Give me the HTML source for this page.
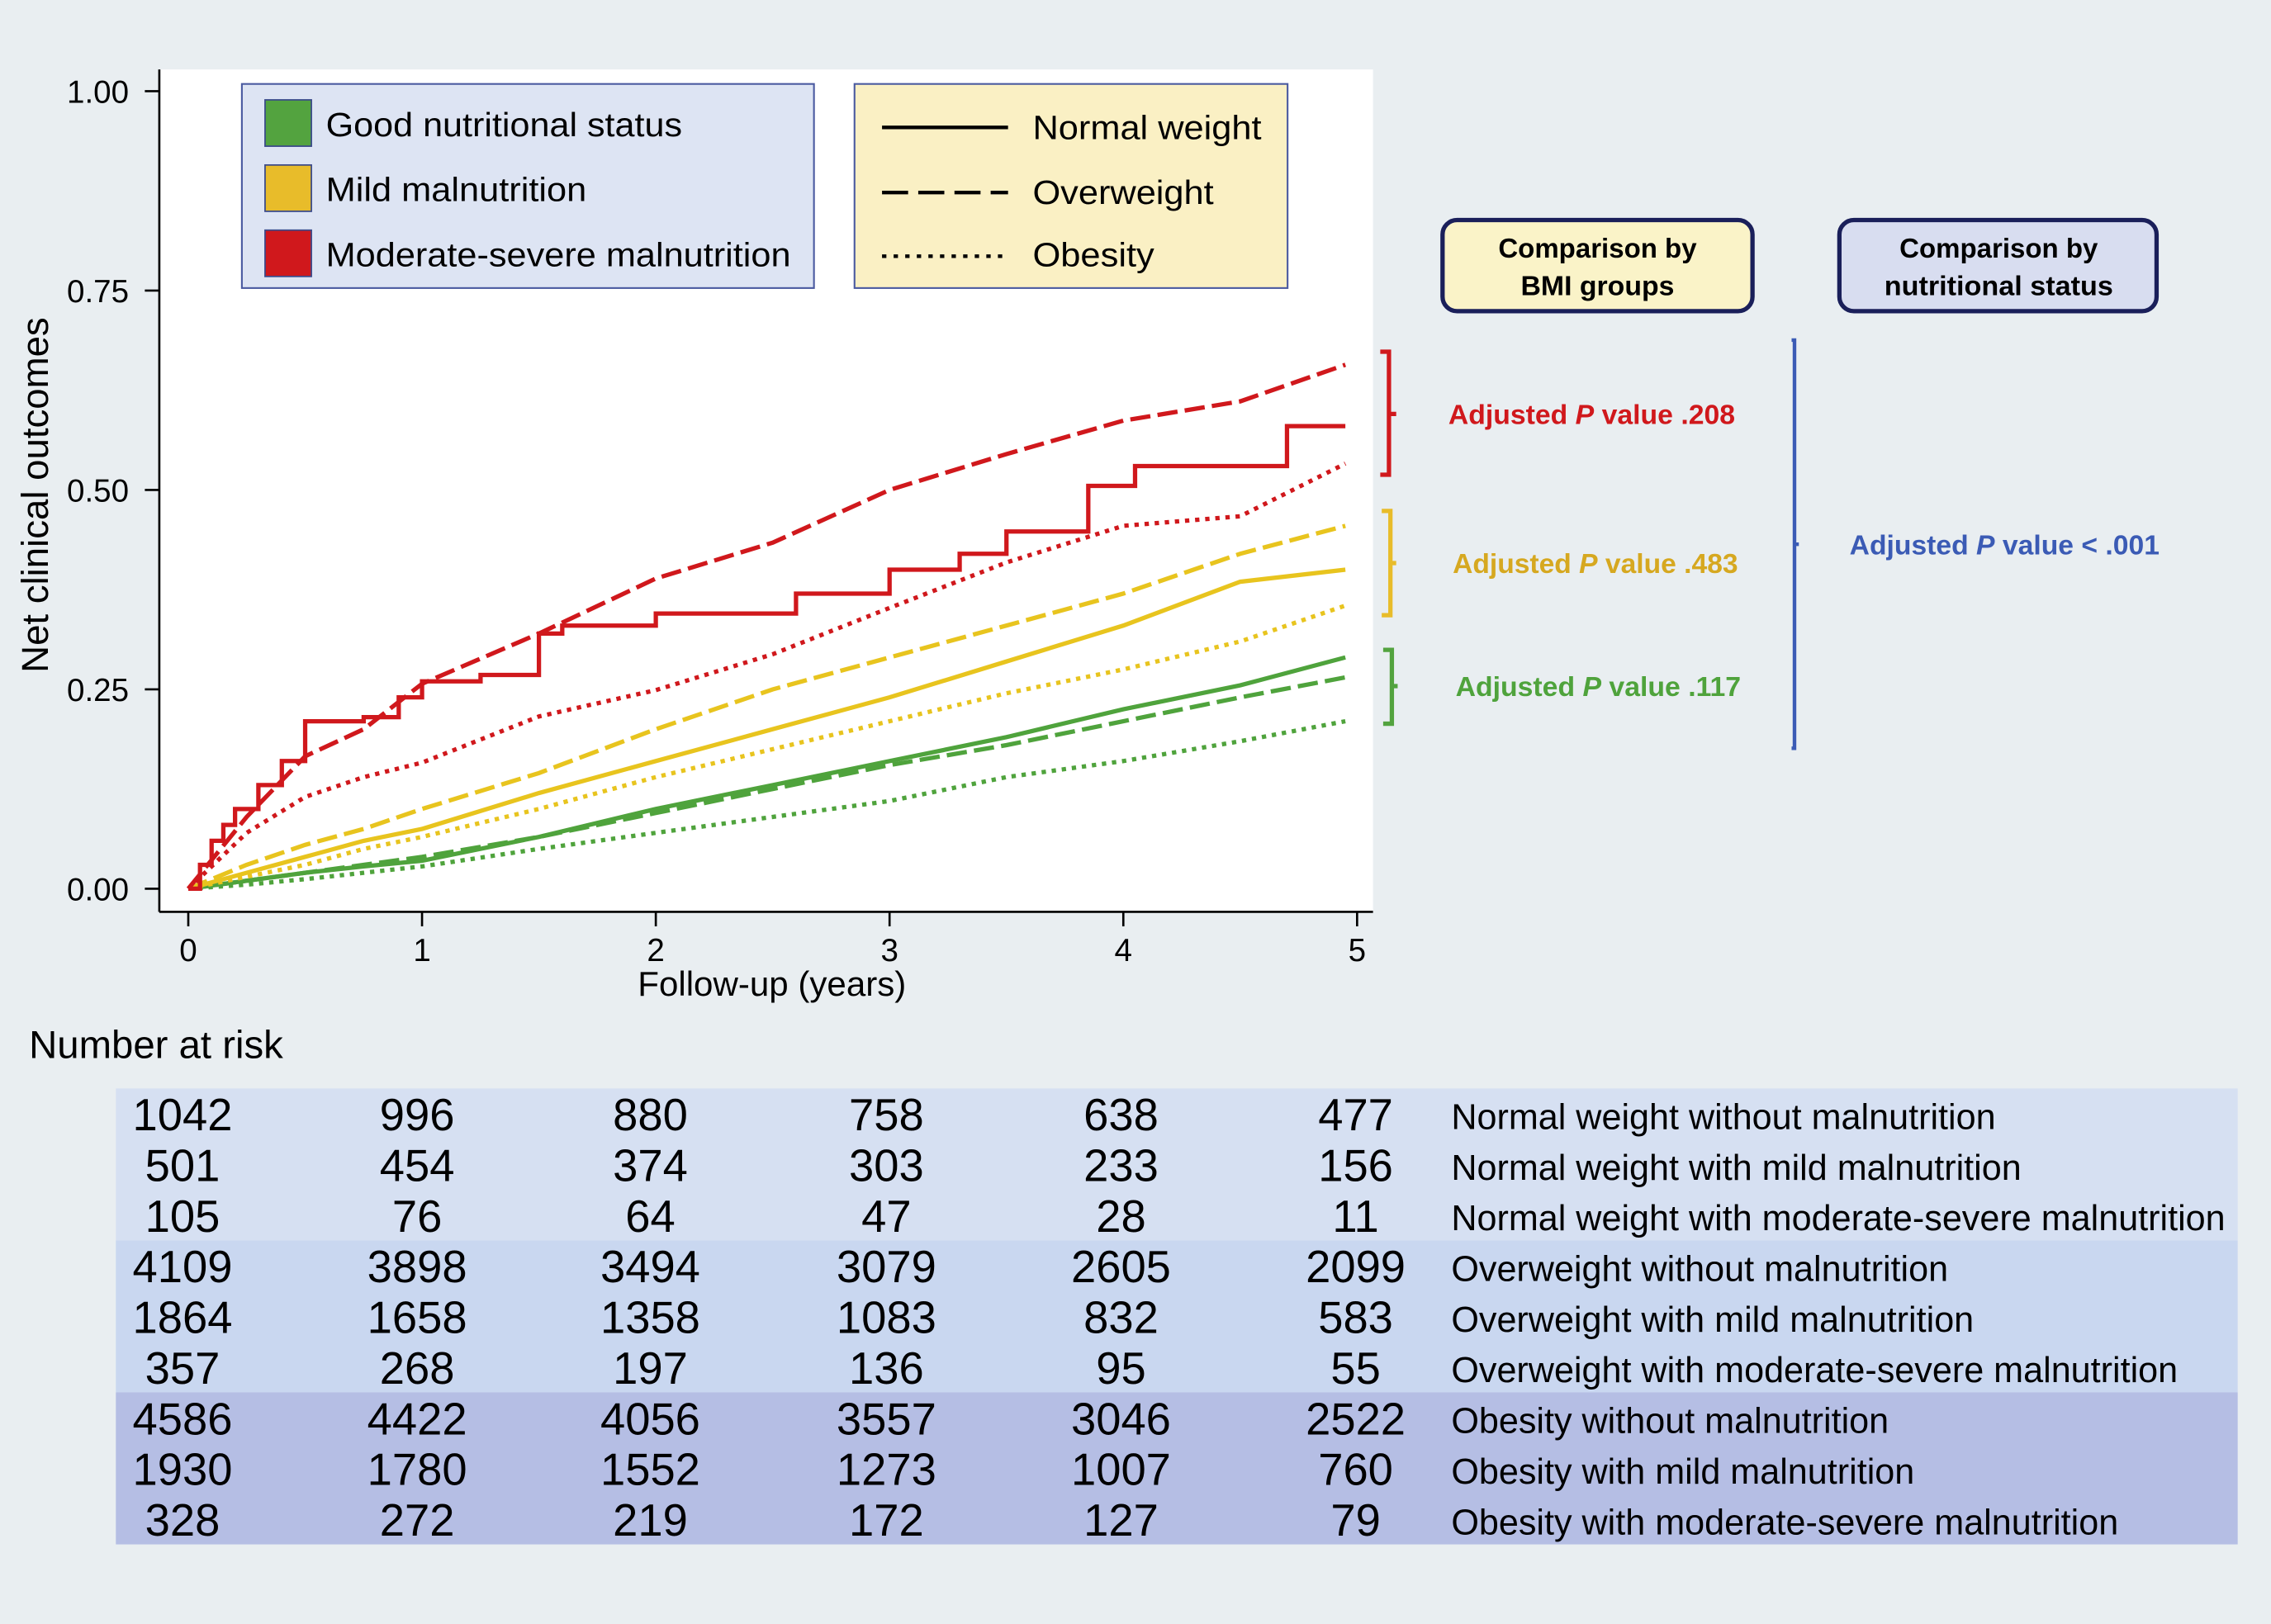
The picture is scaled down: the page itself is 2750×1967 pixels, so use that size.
<!DOCTYPE html>
<html><head><meta charset="utf-8"><style>
html,body{margin:0;padding:0;background:#e9eef1;}
svg{display:block;font-family:"Liberation Sans",sans-serif;}
</style></head><body>
<svg id="chart" width="2750" height="1967" viewBox="0 0 1568 1122" preserveAspectRatio="none" xmlns="http://www.w3.org/2000/svg">
<rect x="0" y="0" width="1568" height="1122" fill="#e9eef1"/>
<rect x="110" y="48" width="838" height="582" fill="#ffffff"/>
<g id="series"></g>
<line x1="110" y1="48" x2="110" y2="630" stroke="#000" stroke-width="1.5"/>
<line x1="110" y1="630" x2="948" y2="630" stroke="#000" stroke-width="1.5"/>
<g id="yticks"></g>
<g id="xticks"></g>
<text x="0" y="0" transform="translate(33,342) rotate(-90)" text-anchor="middle" font-size="26">Net clinical outcomes</text>
<text x="533" y="688" text-anchor="middle" font-size="24">Follow-up (years)</text>

<g>
<rect x="167" y="58" width="395" height="141" fill="#dde4f3" stroke="#4a5aa0" stroke-width="1.2"/>
<rect x="183" y="69" width="32" height="32" fill="#53a33f" stroke="#3b4a8a"/>
<rect x="183" y="114" width="32" height="32" fill="#e8bc2a" stroke="#3b4a8a"/>
<rect x="183" y="159" width="32" height="32" fill="#d0181c" stroke="#3b4a8a"/>
<text x="225" y="94" font-size="23" textLength="246" lengthAdjust="spacingAndGlyphs">Good nutritional status</text>
<text x="225" y="139" font-size="23" textLength="180" lengthAdjust="spacingAndGlyphs">Mild malnutrition</text>
<text x="225" y="184" font-size="23" textLength="321" lengthAdjust="spacingAndGlyphs">Moderate-severe malnutrition</text>
</g>
<g>
<rect x="590" y="58" width="299" height="141" fill="#faf0c4" stroke="#4a5aa0" stroke-width="1.2"/>
<line x1="609" y1="88" x2="696" y2="88" stroke="#000" stroke-width="2.5"/>
<line x1="609" y1="133" x2="696" y2="133" stroke="#000" stroke-width="2.5" stroke-dasharray="18,7"/>
<line x1="609" y1="177" x2="696" y2="177" stroke="#000" stroke-width="2.5" stroke-dasharray="3,5"/>
<text x="713" y="96" font-size="23" textLength="158" lengthAdjust="spacingAndGlyphs">Normal weight</text>
<text x="713" y="141" font-size="23" textLength="125" lengthAdjust="spacingAndGlyphs">Overweight</text>
<text x="713" y="184" font-size="23" textLength="84" lengthAdjust="spacingAndGlyphs">Obesity</text>
</g>

<g>
<rect x="996" y="152" width="214" height="63" rx="10" fill="#faf3c8" stroke="#1a1f5a" stroke-width="3"/>
<text x="1103" y="178" text-anchor="middle" font-size="19" font-weight="bold" textLength="137" lengthAdjust="spacingAndGlyphs">Comparison by</text>
<text x="1103" y="204" text-anchor="middle" font-size="19" font-weight="bold" textLength="106" lengthAdjust="spacingAndGlyphs">BMI groups</text>
<rect x="1270" y="152" width="219" height="63" rx="10" fill="#d8ddf0" stroke="#1a1f5a" stroke-width="3"/>
<text x="1380" y="178" text-anchor="middle" font-size="19" font-weight="bold" textLength="137" lengthAdjust="spacingAndGlyphs">Comparison by</text>
<text x="1380" y="204" text-anchor="middle" font-size="19" font-weight="bold" textLength="158" lengthAdjust="spacingAndGlyphs">nutritional status</text>
<path d="M953,243 H959 V328 H953 M959,286 H964" fill="none" stroke="#d0181c" stroke-width="3"/>
<path d="M954,353 H960 V425 H954 M960,389 H964" fill="none" stroke="#e8bc2a" stroke-width="3"/>
<path d="M955,449 H961 V500 H955 M961,474 H965" fill="none" stroke="#53a33f" stroke-width="3"/>
<path d="M1237,235 H1239 V517 H1237 M1239,376 H1242" fill="none" stroke="#3b5bb5" stroke-width="2.5"/>
<text x="1000" y="293" font-size="19" font-weight="bold" fill="#d0181c" textLength="198" lengthAdjust="spacingAndGlyphs">Adjusted <tspan font-style="italic">P</tspan> value .208</text>
<text x="1003" y="396" font-size="19" font-weight="bold" fill="#d6a820" textLength="197" lengthAdjust="spacingAndGlyphs">Adjusted <tspan font-style="italic">P</tspan> value .483</text>
<text x="1005" y="481" font-size="19" font-weight="bold" fill="#4fa33c" textLength="197" lengthAdjust="spacingAndGlyphs">Adjusted <tspan font-style="italic">P</tspan> value .117</text>
<text x="1277" y="383" font-size="19" font-weight="bold" fill="#3b5bb5" textLength="214" lengthAdjust="spacingAndGlyphs">Adjusted <tspan font-style="italic">P</tspan> value &lt; .001</text>
</g>

<text x="20" y="731" font-size="27">Number at risk</text>
<rect x="80" y="752" width="1465" height="105" fill="#d6e0f2"/>
<rect x="80" y="857" width="1465" height="105" fill="#c9d7f0"/>
<rect x="80" y="962" width="1465" height="105" fill="#b5bee4"/>
<g id="risk"></g>
</svg>
<script>
var NS="http://www.w3.org/2000/svg";
var times=[0,0.25,0.5,0.75,1,1.5,2,2.5,3,3.5,4,4.5,4.95];
var greenNormal=[0,0.01,0.02,0.028,0.035,0.065,0.1,0.13,0.16,0.19,0.225,0.255,0.29];
var greenOver=[0,0.01,0.02,0.03,0.04,0.065,0.095,0.125,0.155,0.18,0.21,0.24,0.265];
var greenObese=[0,0.005,0.012,0.02,0.028,0.05,0.07,0.09,0.11,0.14,0.16,0.185,0.21];
var yellowNormal=[0,0.02,0.04,0.06,0.075,0.12,0.16,0.2,0.24,0.285,0.33,0.385,0.4];
var yellowOver=[0,0.03,0.055,0.075,0.1,0.145,0.2,0.25,0.29,0.33,0.37,0.42,0.455];
var yellowObese=[0,0.015,0.03,0.05,0.065,0.1,0.14,0.175,0.21,0.245,0.275,0.31,0.355];
var redOver=[0,0.09,0.166,0.2,0.257,0.32,0.389,0.434,0.5,0.545,0.587,0.611,0.657];
var redObese=[0,0.07,0.115,0.14,0.158,0.216,0.249,0.294,0.352,0.409,0.455,0.467,0.533];
var redNormalTimes=[0,0.05,0.1,0.15,0.2,0.3,0.4,0.5,0.75,0.9,1,1.25,1.5,1.6,2,2.5,2.6,3,3.3,3.5,3.8,3.85,4.05,4.65,4.7,4.95];
var redNormal=[0,0.03,0.06,0.08,0.1,0.13,0.16,0.21,0.215,0.24,0.26,0.268,0.32,0.33,0.345,0.345,0.37,0.4,0.42,0.448,0.448,0.505,0.53,0.53,0.58,0.58];
var yTicks=["0.00","0.25","0.50","0.75","1.00"];
var yTickVals=[0,0.25,0.5,0.75,1];
var xTicks=[0,1,2,3,4,5];
var riskCols=[0,1,2,3,4,5];
var riskRows=[[1042,996,880,758,638,477],[501,454,374,303,233,156],[105,76,64,47,28,11],[4109,3898,3494,3079,2605,2099],[1864,1658,1358,1083,832,583],[357,268,197,136,95,55],[4586,4422,4056,3557,3046,2522],[1930,1780,1552,1273,1007,760],[328,272,219,172,127,79]];
var riskLabels=["Normal weight without malnutrition","Normal weight with mild malnutrition","Normal weight with moderate-severe malnutrition","Overweight without malnutrition","Overweight with mild malnutrition","Overweight with moderate-severe malnutrition","Obesity without malnutrition","Obesity with mild malnutrition","Obesity with moderate-severe malnutrition"];

function xs(t){return 130+t*161.4;}
function ys(v){return 614-v*551;}
function mk(tag,attrs,parent){var e=document.createElementNS(NS,tag);for(var k in attrs)e.setAttribute(k,attrs[k]);parent.appendChild(e);return e;}

var sg=document.getElementById('series');
var RED="#d0181c",YEL="#e8c41e",GRN="#4fa33c";
var defs=[
 [times,greenObese,GRN,"3,4","green-obesity-line"],
 [times,greenOver,GRN,"14,5","green-overweight-line"],
 [times,greenNormal,GRN,"none","green-normal-line"],
 [times,yellowObese,YEL,"3,4","yellow-obesity-line"],
 [times,yellowNormal,YEL,"none","yellow-normal-line"],
 [times,yellowOver,YEL,"14,5","yellow-overweight-line"],
 [times,redObese,RED,"3,4","red-obesity-line"],
 [times,redOver,RED,"14,5","red-overweight-line"]
];
defs.forEach(function(d){
  var p="";
  for(var i=0;i<d[0].length;i++){p+=(i?"L":"M")+xs(d[0][i]).toFixed(1)+","+ys(d[1][i]).toFixed(1);}
  var el=mk('path',{d:p,fill:"none",stroke:d[2],"stroke-width":3,"stroke-dasharray":d[3]},sg);
  
  
});
(function(){
  var p="M"+xs(redNormalTimes[0])+","+ys(redNormal[0]);
  for(var i=1;i<redNormalTimes.length;i++){p+="H"+xs(redNormalTimes[i]).toFixed(1)+"V"+ys(redNormal[i]).toFixed(1);}
  var el=mk('path',{d:p,fill:"none",stroke:RED,"stroke-width":3},sg);
  
  
})();

var yt=document.getElementById('yticks');
yTickVals.forEach(function(v,i){
  var l=mk('line',{x1:100,x2:110,y1:ys(v),y2:ys(v),stroke:"#000","stroke-width":1.5},yt);
  
  
  var t=mk('text',{x:89,y:ys(v)+8,"text-anchor":"end","font-size":22},yt);
  t.textContent=yTicks[i];
  
  
});
var xt=document.getElementById('xticks');
xTicks.forEach(function(v){
  var l=mk('line',{x1:xs(v),x2:xs(v),y1:630,y2:640,stroke:"#000","stroke-width":1.5},xt);
  
  
  var t=mk('text',{x:xs(v),y:664,"text-anchor":"middle","font-size":22},xt);
  t.textContent=String(v);
  
  
});
var rg=document.getElementById('risk');
var colX=[126,288,449,612,774,936];
riskRows.forEach(function(row,r){
  var y=781+r*35;
  row.forEach(function(n,c){
    var t=mk('text',{x:colX[riskCols[c]],y:y,"text-anchor":"middle","font-size":31},rg);
    t.textContent=String(n);
    
    
  });
  var lb=mk('text',{x:1002,y:y-1,"font-size":24.6},rg);
  lb.textContent=riskLabels[r];
  
  
});
</script>
</body></html>
